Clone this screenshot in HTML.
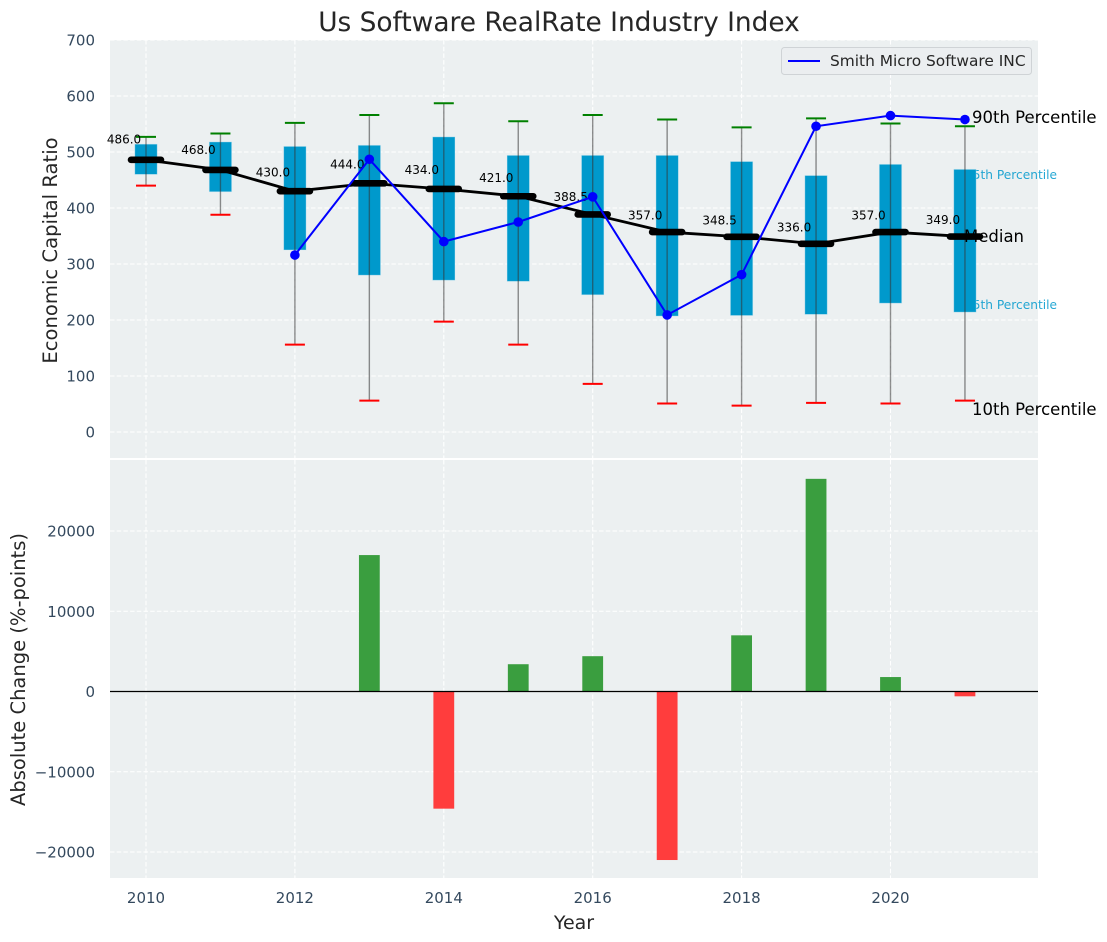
<!DOCTYPE html>
<html>
<head>
<meta charset="utf-8">
<style>
html,body{margin:0;padding:0;background:#fff;}
svg{display:block;font-family:"DejaVu Sans","Liberation Sans",sans-serif;}
</style>
</head>
<body>
<svg id="chart" xmlns="http://www.w3.org/2000/svg" width="1107" height="942" viewBox="0 0 1107 942">
  <rect x="110" y="40" width="928" height="418" fill="#ecf0f1"/>
  <rect x="110" y="460" width="928" height="418" fill="#ecf0f1"/>
  <g id="grid"></g>
  <g id="ticks"></g>
  <text x="559" y="31" text-anchor="middle" font-size="26.4" fill="#262626">Us Software RealRate Industry Index</text>
  <text transform="translate(57,250.5) rotate(-90)" text-anchor="middle" font-size="19.6" fill="#262626">Economic Capital Ratio</text>
  <text transform="translate(25,669.5) rotate(-90)" text-anchor="middle" font-size="19.5" fill="#262626">Absolute Change (%-points)</text>
  <text x="574" y="929" text-anchor="middle" font-size="19" fill="#262626">Year</text>
  <text x="965" y="179" font-size="12.2" fill="#0099cc" fill-opacity="0.85">75th Percentile</text>
  <text x="965" y="309" font-size="12.2" fill="#0099cc" fill-opacity="0.85">25th Percentile</text>
  <g id="marks"></g>
  <g id="bars"></g>
  <line x1="110" x2="1038" y1="691.5" y2="691.5" stroke="#000" stroke-width="1.3"/>
  <text x="972" y="123" font-size="16.5" fill="#000">90th Percentile</text>
  <text x="964" y="242" font-size="16.5" fill="#000">Median</text>
  <text x="972" y="415" font-size="16.5" fill="#000">10th Percentile</text>
  <g>
    <rect x="781.5" y="47.5" width="250" height="27" rx="3" fill="#ebedf0" fill-opacity="0.9" stroke="#cfd3d6"/>
    <line x1="788" x2="820" y1="61" y2="61" stroke="#0000ff" stroke-width="2"/>
    <text x="830" y="66" font-size="15.4" fill="#262626">Smith Micro Software INC</text>
  </g>
</svg>
<script>
const years = [2010,2011,2012,2013,2014,2015,2016,2017,2018,2019,2020,2021];
const p90 = [527,533,552,566,587,555,566,558,544,560,551,546];
const p75 = [514,518,510,512,527,494,494,494,483,458,478,469];
const medians = [486,468,430,444,434,421,388.5,357,348.5,336,357,349];
const p25 = [460,429,325,280,271,269,245,207,208,210,230,214];
const p10 = [440,388,156,56,197,156,86,51,47,52,51,56];
const companyYears = [2012,2013,2014,2015,2016,2017,2018,2019,2020,2021];
const companyValues = [316,487,340,375,420,209,281,546,565,558];
const changeYears = [2013,2014,2015,2016,2017,2018,2019,2020,2021];
const changeValues = [17000,-14600,3400,4400,-21000,7000,26500,1800,-600];
const xTicks = [2010,2012,2014,2016,2018,2020];
const topYTicks = [0,100,200,300,400,500,600,700];
const bottomYTicks = [-20000,-10000,0,10000,20000];

const NS = 'http://www.w3.org/2000/svg';
const xScale = y => 146 + (y - 2010) * 74.45;
const yTop = v => 432 - v * 0.56;
const yBottom = v => 691.5 - v * 0.008025;

function mk(tag, attrs, parent, text) {
  const el = document.createElementNS(NS, tag);
  for (const k in attrs) el.setAttribute(k, attrs[k]);
  if (text !== undefined) el.textContent = text;
  parent.appendChild(el);
  return el;
}

const grid = document.getElementById('grid');
const ticks = document.getElementById('ticks');
const marks = document.getElementById('marks');
const bars = document.getElementById('bars');
const gridStyle = {stroke:'#ffffff','stroke-width':1.1,'stroke-dasharray':'4.5 2.2'};
const tickFill = '#34495e';

xTicks.forEach(t => {
  const x = xScale(t);
  const a = mk('line', Object.assign({x1:x,x2:x,y1:40,y2:458}, gridStyle), grid);
  
  
  const b = mk('line', Object.assign({x1:x,x2:x,y1:460,y2:878}, gridStyle), grid);
  
  
  const l = mk('text', {x:x,y:903,'text-anchor':'middle','font-size':15,fill:tickFill}, ticks, String(t));
  
  
});
topYTicks.forEach(t => {
  const y = yTop(t);
  const a = mk('line', Object.assign({x1:110,x2:1038,y1:y,y2:y}, gridStyle), grid);
  
  
  const l = mk('text', {x:95,y:y+5.5,'text-anchor':'end','font-size':15,fill:tickFill}, ticks, String(t));
  
  
});
bottomYTicks.forEach(t => {
  const y = yBottom(t);
  const a = mk('line', Object.assign({x1:110,x2:1038,y1:y,y2:y}, gridStyle), grid);
  
  
  const txt = (t < 0 ? '\u2212' : '') + Math.abs(t);
  const l = mk('text', {x:95,y:y+5.5,'text-anchor':'end','font-size':15,fill:tickFill}, ticks, txt);
  
  
});

years.forEach((yr, i) => {
  const x = xScale(yr);
  const box = mk('rect', {x:x-11.2,width:22.4,y:yTop(p75[i]),height:yTop(p25[i])-yTop(p75[i]),fill:'#0099cc',stroke:'#cfe9f3','stroke-opacity':0.5,'stroke-width':0.8}, marks);
  
  
  const whisker = mk('line', {x1:x,x2:x,y1:yTop(p90[i]),y2:yTop(p10[i]),stroke:'#333','stroke-opacity':0.55,'stroke-width':1.4}, marks);
  
  
  const hi = mk('line', {x1:x-10,x2:x+10,y1:yTop(p90[i]),y2:yTop(p90[i]),stroke:'#008000','stroke-width':2}, marks);
  
  
  const lo = mk('line', {x1:x-10,x2:x+10,y1:yTop(p10[i]),y2:yTop(p10[i]),stroke:'#ff0000','stroke-width':2}, marks);
  
  
});

const medianPath = mk('polyline', {points:years.map((yr,i)=>xScale(yr)+','+yTop(medians[i])).join(' '),fill:'none',stroke:'#000','stroke-width':2.8}, marks);



years.forEach((yr, i) => {
  const x = xScale(yr), y = yTop(medians[i]);
  const seg = mk('line', {x1:x-15,x2:x+15,y1:y,y2:y,stroke:'#000','stroke-width':6.6,'stroke-linecap':'round'}, marks);
  
  
  const labelY = yTop(medians[i] * 1.048 + 13.7) + 4.5;
  const t = mk('text', {x:x-22,y:labelY,'text-anchor':'middle','font-size':12,fill:'#000'}, marks, medians[i].toFixed(1));
  
  
});

const companyLine = mk('polyline', {points:companyYears.map((yr,i)=>xScale(yr)+','+yTop(companyValues[i])).join(' '),fill:'none',stroke:'#0000ff','stroke-width':2}, marks);


companyYears.forEach((yr, i) => {
  const dot = mk('circle', {cx:xScale(yr),cy:yTop(companyValues[i]),r:4.8,fill:'#0000ff'}, marks);
  
  
});

changeYears.forEach((yr, i) => {
  const v = changeValues[i];
  const y0 = yBottom(0), y1 = yBottom(v);
  const bar = mk('rect', {x:xScale(yr)-10.4,width:20.8,y:Math.min(y0,y1),height:Math.abs(y1-y0),fill:v>=0?'#3a9e3f':'#ff3d3d'}, bars);
  
  
});
</script>
</body>
</html>
